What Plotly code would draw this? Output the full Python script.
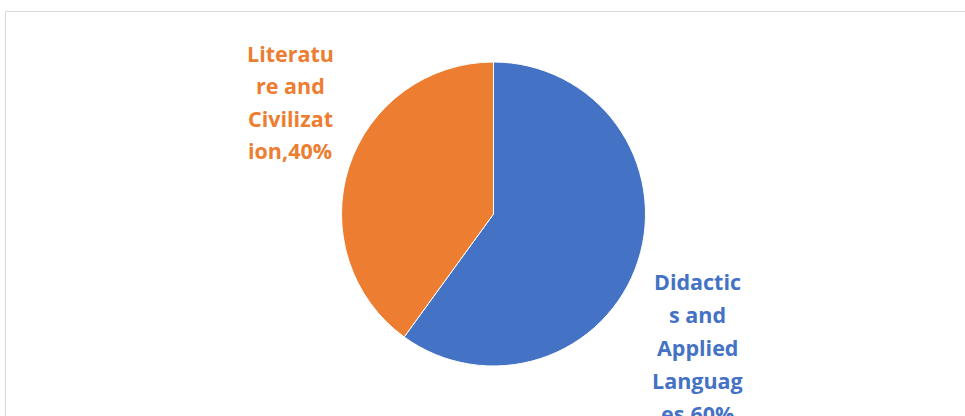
import plotly.graph_objects as go

# Share of enrolments by field of study
categories = ["Didactics and Applied Languages", "Literature and Civilization"]
shares = [60, 40]
# Wrapped label text for each field (the share is appended to the last line)
label_lines = [
    ["Didactic", "s and", "Applied", "Languag", "es"],
    ["Literatu", "re and", "Civilizat", "ion"],
]
colors = ["#4472C4", "#ED7D31"]

W, H = 965, 416

# Pie geometry in pixels
cx, cy, r = 493.5, 214.0, 152.0

fig = go.Figure(
    go.Pie(
        labels=categories,
        values=shares,
        sort=False,
        direction="clockwise",
        rotation=0,
        textinfo="none",
        hoverinfo="label+percent",
        marker=dict(colors=colors, line=dict(color="white", width=1)),
        domain=dict(
            x=[(cx - r) / W, (cx + r) / W],
            y=[1 - (cy + r) / H, 1 - (cy - r) / H],
        ),
        showlegend=False,
    )
)

# Data label placement (centre x, first-line y, line step) in pixels
label_pos = [(697.5, 281.5, 33.0), (290.0, 53.0, 32.5)]

annotations = []
for lines, v, col, (lx, ly, step) in zip(label_lines, shares, colors, label_pos):
    text_lines = lines[:-1] + [f"{lines[-1]},{v}%"]
    for i, t in enumerate(text_lines):
        annotations.append(
            dict(
                text=f"<b>{t}</b>",
                x=lx / W,
                y=1 - (ly + i * step) / H,
                xref="paper",
                yref="paper",
                xanchor="center",
                yanchor="middle",
                showarrow=False,
                font=dict(family="Open Sans", size=21.5, color=col),
            )
        )

fig.update_layout(
    width=W,
    height=H,
    margin=dict(l=0, r=0, t=0, b=0),
    paper_bgcolor="white",
    plot_bgcolor="white",
    annotations=annotations,
    shapes=[
        dict(
            type="rect",
            xref="paper",
            yref="paper",
            x0=5.5 / W,
            x1=1.02,
            y0=-0.02,
            y1=1 - 11.5 / H,
            line=dict(color="#D9D9D9", width=1),
            fillcolor="rgba(0,0,0,0)",
            layer="below",
        )
    ],
)

fig.write_html("out.html")
